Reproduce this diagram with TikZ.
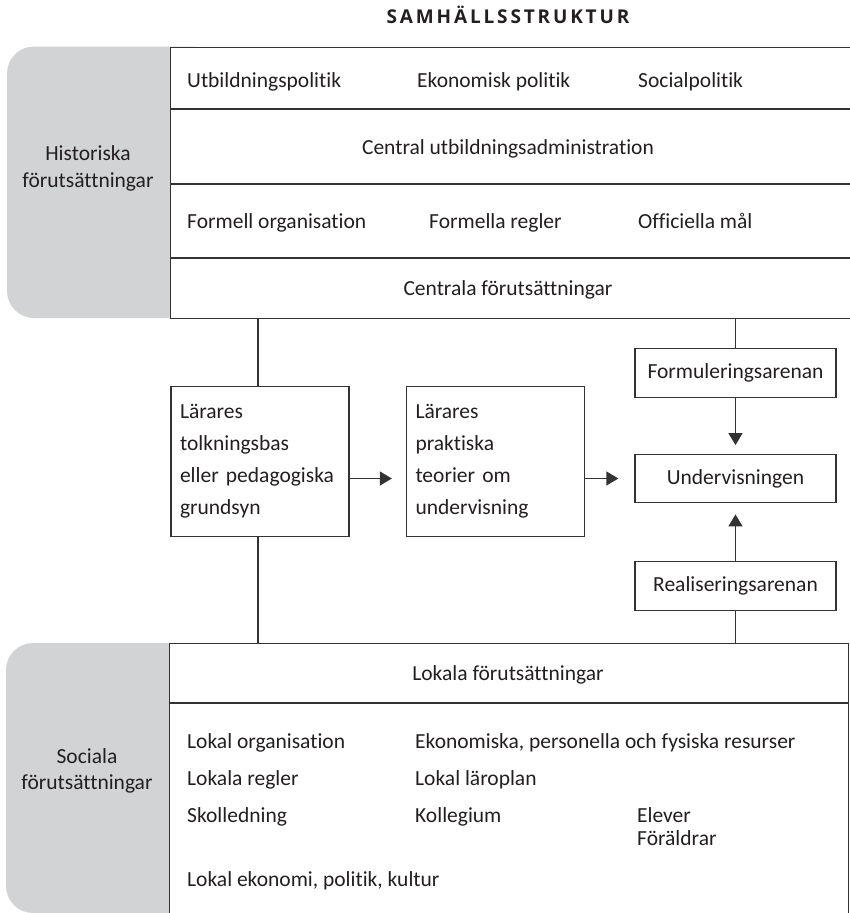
\documentclass[tikz,border=0pt]{standalone}
\usepackage{fontspec}
\setmainfont{Carlito}[Ligatures=NoCommon]
\newfontfamily\titlefont{Open Sans}[LetterSpace=15]
\usetikzlibrary{arrows.meta}
\definecolor{greyc}{HTML}{D1D3D4}
\definecolor{linec}{HTML}{333333}
\definecolor{textc}{HTML}{231F20}
\begin{document}
\begin{tikzpicture}[x=1pt,y=-1pt,
  frame/.style={draw=linec, line width=1.4pt, fill=white, inner sep=0pt},
  conn/.style={draw=linec, line width=1.3pt},
  arr/.style={draw=linec, line width=1.3pt, -{Triangle[length=12pt,width=14pt]}},
  txt/.style={anchor=base west, inner sep=0pt, text=textc, font=\fontsize{21.5}{24}\selectfont},
  ctxt/.style={anchor=base, inner sep=0pt, text=textc, font=\fontsize{21.5}{24}\selectfont},
  mbox/.style={draw=linec, line width=1.3pt, fill=white, text=textc, font=\fontsize{21.5}{32}\selectfont,
    text width=160pt, inner xsep=9pt, align=left, minimum height=150pt},
  sbox/.style={draw=linec, line width=1.3pt, fill=white, text=textc, font=\fontsize{21.5}{24}\selectfont,
    minimum width=201pt, minimum height=48.5pt, inner sep=0pt}
]
\useasboundingbox (0,0) rectangle (849,913);

% grey side panels
\fill[greyc, rounded corners=27pt] (7,46.5) rectangle (220,318);
\fill[greyc, rounded corners=27pt] (6,643) rectangle (220,913);

% title
\node[anchor=base, inner sep=0pt, text=textc, font=\titlefont\bfseries\fontsize{19}{22}\selectfont] (title) at (508,23) {SAMHÄLLSSTRUKTUR};

% top box
\node[frame, anchor=north west, minimum width=683pt, minimum height=271.5pt] (top) at (170,46.5) {};
\draw[conn] (170,109) -- (853,109);
\draw[conn] (170,184) -- (853,184);
\draw[conn] (170,258) -- (853,258);

\node[txt] (t1) at (187,87) {Utbildningspolitik};
\node[txt] (t2) at (417,87) {Ekonomisk politik};
\node[txt] (t3) at (638,87) {Socialpolitik};
\node[ctxt] (t4) at (508,154) {Central utbildningsadministration};
\node[txt] (t5) at (187,228) {Formell organisation};
\node[txt] (t6) at (429,228) {Formella regler};
\node[txt] (t7) at (638,228) {Officiella mål};
\node[ctxt] (t8) at (508,295) {Centrala förutsättningar};

\node[ctxt] (h1) at (88,160) {Historiska};
\node[ctxt] (h2) at (88,187) {förutsättningar};

% bottom box
\node[frame, anchor=north west, minimum width=679.5pt, minimum height=290pt] (bot) at (168.5,643) {};
\draw[conn] (168.5,703) -- (848,703);

\node[ctxt] (l0) at (508,680) {Lokala förutsättningar};
\node[txt] (l1) at (187,748) {Lokal organisation};
\node[txt] (l2) at (415,748) {Ekonomiska, personella och fysiska resurser};
\node[txt] (l3) at (187,785) {Lokala regler};
\node[txt] (l4) at (415,785) {Lokal läroplan};
\node[txt] (l5) at (187,822) {Skolledning};
\node[txt] (l6) at (415,822) {Kollegium};
\node[txt] (l7) at (637,822) {Elever};
\node[txt] (l8) at (637,845) {Föräldrar};
\node[txt] (l9) at (187,886) {Lokal ekonomi, politik, kultur};

\node[ctxt] (s1) at (87,763) {Sociala};
\node[ctxt] (s2) at (87,789) {förutsättningar};

% middle boxes
\node[mbox] (b1) at (260,461.5) {Lärares\\tolkningsbas\\eller pedagogiska\\grundsyn};
\node[mbox] (b2) at (495.5,461.5) {Lärares\\praktiska\\teorier om\\undervisning};
\node[sbox] (form) at (735.5,373) {Formuleringsarenan};
\node[sbox] (und) at (735.5,478.5) {Undervisningen};
\node[sbox] (real) at (735.5,586) {Realiseringsarenan};

% connector end points on the frames
\coordinate (tA) at (258,318);
\coordinate (tB) at (735.5,318);
\coordinate (bA) at (258,643);
\coordinate (bB) at (735.5,643);

\draw[conn] (tA) -- (tA |- b1.north);
\draw[conn] (bA |- b1.south) -- (bA);
\draw[conn] (tB) -- (form.north);
\draw[conn] (real.south) -- (bB);

\draw[arr, shorten >=14pt] (b1.east |- und) -- (b2.west |- und);
\draw[arr, shorten >=16pt] (b2.east |- und) -- (und.west);
\draw[arr, shorten >=8.5pt] (form.south) -- (und.north);
\draw[arr, shorten >=11pt] (real.north) -- (und.south);
\end{tikzpicture}
\end{document}
